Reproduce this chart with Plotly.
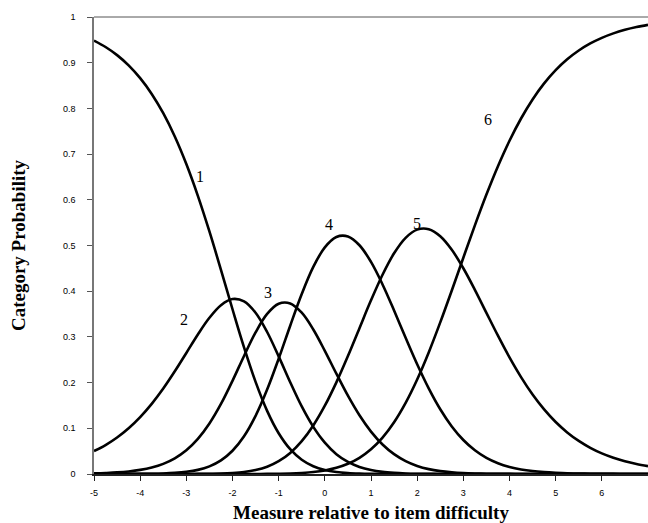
import plotly.graph_objects as go

# Measure relative to item difficulty (x), every 0.25
measure = [-5, -4.75, -4.5, -4.25, -4, -3.75, -3.5, -3.25, -3, -2.75, -2.5, -2.25, -2,
           -1.75, -1.5, -1.25, -1, -0.75, -0.5, -0.25, 0, 0.25, 0.5, 0.75, 1,
           1.25, 1.5, 1.75, 2, 2.25, 2.5, 2.75, 3, 3.25, 3.5, 3.75, 4,
           4.25, 4.5, 4.75, 5, 5.25, 5.5, 5.75, 6, 6.25, 6.5, 6.75, 7]

# Category probability curves
cat1 = [0.9485, 0.9344, 0.9166, 0.8942, 0.8662, 0.8317, 0.7895, 0.7386, 0.6783, 0.6087,
        0.5307, 0.4467, 0.3605, 0.2770, 0.2015, 0.1382, 0.0892, 0.0542, 0.0311, 0.0169,
        0.0087, 0.0043, 0.0020, 0.0009, 0.0004, 0.0002, 0.0001, 0,
        0, 0, 0, 0, 0, 0, 0, 0, 0, 0, 0, 0, 0, 0, 0, 0, 0, 0, 0, 0, 0]
cat2 = [0.0502, 0.0634, 0.0799, 0.1001, 0.1245, 0.1535, 0.1870, 0.2247, 0.2649, 0.3053,
        0.3418, 0.3694, 0.3828, 0.3777, 0.3528, 0.3107, 0.2574, 0.2008, 0.1478, 0.1032,
        0.0685, 0.0434, 0.0264, 0.0154, 0.0087, 0.0047, 0.0025, 0.0012, 0.0006, 0.0003,
        0.0001, 0.0001,
        0, 0, 0, 0, 0, 0, 0, 0, 0, 0, 0, 0, 0, 0, 0, 0, 0]
cat3 = [0.0013, 0.0022, 0.0035, 0.0056, 0.0090, 0.0142, 0.0222, 0.0343, 0.0519, 0.0768,
        0.1104, 0.1532, 0.2039, 0.2583, 0.3098, 0.3503, 0.3726, 0.3732, 0.3529, 0.3162,
        0.2695, 0.2195, 0.1713, 0.1285, 0.0928, 0.0646, 0.0434, 0.0282, 0.0177, 0.0107,
        0.0063, 0.0036, 0.0020, 0.0011, 0.0006, 0.0003, 0.0002, 0.0001,
        0, 0, 0, 0, 0, 0, 0, 0, 0, 0, 0]
cat4 = [0, 0, 0.0001, 0.0002, 0.0003, 0.0006, 0.0012, 0.0025, 0.0048, 0.0090,
        0.0167, 0.0297, 0.0508, 0.0826, 0.1272, 0.1847, 0.2523, 0.3245, 0.3939, 0.4532,
        0.4960, 0.5187, 0.5198, 0.5006, 0.4641, 0.4148, 0.3578, 0.2981, 0.2402, 0.1874,
        0.1417, 0.1041, 0.0744, 0.0519, 0.0353, 0.0236, 0.0155, 0.0100, 0.0064, 0.0041,
        0.0026, 0.0016, 0.0010, 0.0006, 0.0004, 0.0002, 0.0001, 0.0001, 0.0001]
cat5 = [0, 0, 0, 0, 0, 0, 0, 0, 0.0001, 0.0002,
        0.0004, 0.0009, 0.0021, 0.0043, 0.0086, 0.0159, 0.0280, 0.0462, 0.0720, 0.1063,
        0.1494, 0.2006, 0.2581, 0.3192, 0.3800, 0.4360, 0.4830, 0.5168, 0.5347, 0.5356,
        0.5202, 0.4906, 0.4502, 0.4030, 0.3527, 0.3026, 0.2551, 0.2120, 0.1739, 0.1413,
        0.1137, 0.0910, 0.0724, 0.0573, 0.0452, 0.0356, 0.0279, 0.0219, 0.0171]
cat6 = [0, 0, 0, 0, 0, 0, 0, 0, 0, 0,
        0, 0, 0, 0, 0.0001, 0.0002, 0.0005, 0.0011, 0.0023, 0.0043,
        0.0078, 0.0135, 0.0223, 0.0354, 0.0541, 0.0797, 0.1133, 0.1557, 0.2068, 0.2660,
        0.3317, 0.4016, 0.4733, 0.5440, 0.6114, 0.6735, 0.7292, 0.7779, 0.8196, 0.8547,
        0.8837, 0.9074, 0.9266, 0.9421, 0.9544, 0.9642, 0.9719, 0.9780, 0.9828]

series = [cat1, cat2, cat3, cat4, cat5, cat6]
curve_labels = ["1", "2", "3", "4", "5", "6"]
label_x = [-2.70, -3.04, -1.23, 0.09, 1.99, 3.53]
label_y = [0.650, 0.339, 0.397, 0.546, 0.549, 0.775]

x_ticks = [-5, -4, -3, -2, -1, 0, 1, 2, 3, 4, 5, 6, 7]
y_ticks = [0, 0.1, 0.2, 0.3, 0.4, 0.5, 0.6, 0.7, 0.8, 0.9, 1]
y_ticktext = ["0", "0.1", "0.2", "0.3", "0.4", "0.5", "0.6", "0.7", "0.8", "0.9", "1"]

fig = go.Figure()
for s in series:
    fig.add_trace(go.Scatter(x=measure, y=s, mode="lines",
                             line=dict(color="black", width=2.6, shape="spline", smoothing=1.0),
                             showlegend=False, hoverinfo="skip", cliponaxis=True))

for t, lx, ly in zip(curve_labels, label_x, label_y):
    fig.add_annotation(x=lx, y=ly, text=t, showarrow=False,
                       font=dict(family="Liberation Serif", size=16, color="black"))

fig.add_shape(type="line", xref="paper", yref="paper", x0=0, x1=1, y0=1, y1=1,
              line=dict(color="#555555", width=1))

fig.update_layout(
    width=648, height=523,
    margin=dict(l=94, r=0, t=17, b=49),
    paper_bgcolor="white", plot_bgcolor="white",
    font=dict(family="Liberation Sans", size=9, color="black"),
    xaxis=dict(range=[-5, 7], tickvals=x_ticks, ticktext=[str(v) for v in x_ticks],
               automargin=False,
               showgrid=False, zeroline=False, showline=True, linecolor="#222222", linewidth=2,
               ticks="outside", ticklen=5, tickcolor="#222222", tickwidth=1,
               ticklabelstandoff=4,
               tickfont=dict(family="Liberation Sans", size=9, color="black"),
               title=dict(text="<b>Measure relative to item difficulty</b>",
                          font=dict(family="Liberation Serif", size=19, color="black"),
                          standoff=10)),
    yaxis=dict(range=[0, 1], tickvals=y_ticks, ticktext=y_ticktext,
               automargin=False,
               showgrid=False, zeroline=False, showline=True, linecolor="#777777", linewidth=1.5,
               ticks="outside", ticklen=5, tickcolor="#555555", tickwidth=1,
               ticklabelstandoff=10,
               tickfont=dict(family="Liberation Sans", size=9, color="black"),
               title=dict(text="<b>Category Probability</b>",
                          font=dict(family="Liberation Serif", size=19, color="black"),
                          standoff=32)),
)

# remove the default page margin so the 648x523 figure fills the window exactly
fig.write_html("out.html", config={"displayModeBar": False},
               post_script="document.body.style.margin='0px';document.body.style.overflow='hidden';")
